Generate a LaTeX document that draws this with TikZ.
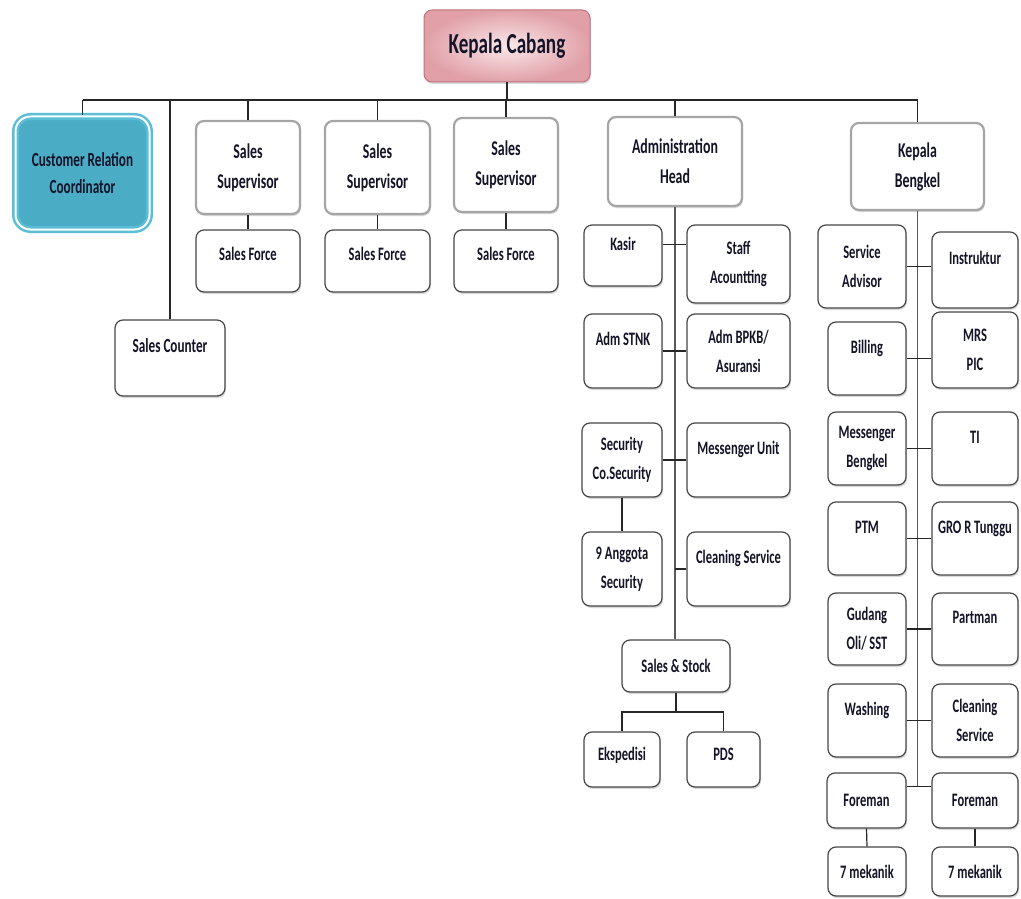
\documentclass[tikz,border=0pt]{standalone}
\usepackage{fontspec}
\newfontfamily\orgfont{Carlito}[FakeStretch=0.66]
\usetikzlibrary{positioning,calc,shadows}
\definecolor{kcpink}{RGB}{225,160,168}
\definecolor{kclight}{RGB}{250,232,234}
\definecolor{kcedge}{RGB}{190,115,125}
\definecolor{crcteal}{RGB}{75,172,198}
\definecolor{crcring}{RGB}{90,190,215}
\definecolor{textdark}{RGB}{20,20,40}
\definecolor{boxgray}{RGB}{70,70,70}
\definecolor{headgray}{RGB}{165,165,165}

\begin{document}
\begin{tikzpicture}[x=1pt, y=-1pt,
    box/.style={rectangle, draw=boxgray, line width=1.2pt, rounded corners=8pt,
                fill=white, align=center, inner sep=2pt, text=textdark,
                font=\orgfont\bfseries\fontsize{19}{29}\selectfont,
                drop shadow={shadow xshift=1pt, shadow yshift=-2pt, opacity=0.3}},
    headbox/.style={box, draw=headgray, line width=2.2pt,
                font=\orgfont\bfseries\fontsize{21}{30}\selectfont},
    dims/.style 2 args={minimum width=#1pt, minimum height=#2pt},
    high/.style={text height=13pt, text depth=#1}, high/.default=24pt,
    conn/.style={draw=black!85, line width=1.2pt}
]
    \useasboundingbox (0,0) rectangle (1021,899);

    % Top
    \node[box, draw=kcedge, line width=1pt, inner color=kclight, outer color=kcpink,
          dims={166}{72}, font=\orgfont\bfseries\fontsize{29}{32}\selectfont] (kc) at (507,46) {Kepala Cabang};
    \coordinate (bus) at (507,100);

    % Second row
    \node[box, draw=crcring, fill=crcteal, double=white, double distance=2pt, line width=2.5pt,
          rounded corners=15pt, dims={134}{113}, font=\orgfont\bfseries\fontsize{20}{27}\selectfont]
          (crc) at (82.5,173) {Customer Relation\\Coordinator};
    \node[box, high, dims={110}{76}, font=\orgfont\bfseries\fontsize{20}{29}\selectfont] (sc) at (170,358) {Sales Counter};
    \node[headbox, dims={104}{93}] (ss1) at (248,167.5) {Sales\\Supervisor};
    \node[headbox, dims={105}{93}] (ss2) at (377.5,167.5) {Sales\\Supervisor};
    \node[headbox, dims={104}{94}] (ss3) at (506,165) {Sales\\Supervisor};
    \node[box, high=14pt, dims={104}{62}] (sf1) at (248,261) {Sales Force};
    \node[box, high=14pt, dims={105}{62}] (sf2) at (377.5,261) {Sales Force};
    \node[box, high=14pt, dims={104}{62}] (sf3) at (506,261) {Sales Force};
    \node[headbox, dims={134}{89}] (admhead) at (675,161.5) {Administration\\Head};
    \node[headbox, dims={133}{87}] (kb) at (917.5,166.5) {Kepala\\Bengkel};

    % Administration
    \node[box, high, dims={78}{61}] (kasir) at (623,255.5) {Kasir};
    \node[box, dims={103}{78}] (staff) at (738.5,264) {Staff\\Acountting};
    \node[box, high, dims={78}{74}] (stnk) at (623,351) {Adm STNK};
    \node[box, dims={103}{74}] (bpkb) at (738.5,351) {Adm BPKB/\\Asuransi};
    \node[box, dims={80}{74}] (sec) at (622,460) {Security\\Co.Security};
    \node[box, high, dims={103}{74}] (msgu) at (738.5,460) {Messenger Unit};
    \node[box, dims={80}{74}] (angg) at (622,569) {9 Anggota\\Security};
    \node[box, high, dims={103}{74}] (clean) at (738.5,569) {Cleaning Service};
    \node[box, dims={108}{52}] (stock) at (676,666) {Sales \& Stock};
    \node[box, high=12pt, dims={76}{55}] (eksp) at (622,759.5) {Ekspedisi};
    \node[box, high=12pt, dims={73}{55}] (pds) at (723.5,759.5) {PDS};

    % Bengkel
    \node[box, dims={88}{83}] (sa) at (862,266.5) {Service\\Advisor};
    \node[box, high, dims={86}{76}] (instr) at (975,270) {Instruktur};
    \node[box, high, dims={78}{73}] (bill) at (867,358.5) {Billing};
    \node[box, dims={86}{76}] (mrs) at (975,350) {MRS\\PIC};
    \node[box, dims={78}{73}] (msgb) at (867,448.5) {Messenger\\Bengkel};
    \node[box, high, dims={86}{73}] (ti) at (975,448.5) {TI};
    \node[box, high, dims={78}{73}] (ptm) at (867,538.5) {PTM};
    \node[box, high, dims={86}{73}] (gro) at (975,538.5) {GRO R Tunggu};
    \node[box, dims={78}{72}] (gud) at (867,629) {Gudang\\Oli/ SST};
    \node[box, high, dims={86}{72}] (part) at (975,629) {Partman};
    \node[box, high, dims={78}{73}] (wash) at (867,720.5) {Washing};
    \node[box, dims={86}{73}] (cleanb) at (975,720.5) {Cleaning\\Service};
    \node[box, dims={79}{55}] (fml) at (866.5,800.5) {Foreman};
    \node[box, dims={86}{55}] (fmr) at (975,800.5) {Foreman};
    \node[box, dims={78}{49}] (mekl) at (867,871.5) {7 mekanik};
    \node[box, dims={86}{49}] (mekr) at (975,871.5) {7 mekanik};

    % Bus and drops
    \draw[conn] (kc.south) -- (bus);
    \draw[conn] (crc.north |- bus) -- (kb.north |- bus);
    \foreach \n in {crc,ss1,ss2,ss3,admhead,kb}
        \draw[conn] (\n.north |- bus) -- (\n.north);
    \draw[conn] (sc.north |- bus) -- (sc.north);
    \draw[conn] (ss1.south) -- (sf1.north);
    \draw[conn] (ss2.south) -- (sf2.north);
    \draw[conn] (ss3.south) -- (sf3.north);

    % Administration links
    \draw[conn, draw=black!65, line width=1.6pt] (admhead.south) -- (admhead.south |- stock.north);
    \draw[conn] ([yshift=11pt]kasir.east) -- ([yshift=11pt]kasir.east -| staff.west);
    \draw[conn] (stnk.east) -- (stnk.east -| bpkb.west);
    \draw[conn] (sec.east) -- (sec.east -| msgu.west);
    \draw[conn] (clean.west) -- (clean.west -| admhead.south);
    \draw[conn] (sec.south) -- (angg.north);
    \coordinate (stk) at ($(stock.south)!.5!(stock.south |- eksp.north)$);
    \draw[conn] (stock.south) -- (stk);
    \draw[conn] (eksp.north) |- (stk) -| (pds.north);

    % Bengkel links
    \coordinate (fmc) at ([yshift=14pt]fml.east);
    \draw[conn, draw=black!65, line width=1.6pt] (kb.south) -- (kb.south |- fmc);
    \foreach \l/\r in {sa/instr,bill/mrs,msgb/ti,ptm/gro,gud/part,wash/cleanb}
        \draw[conn] (\l.east) -- (\l.east -| \r.west);
    \draw[conn] (fmc) -- (fmc -| fmr.west);
    \draw[conn] (fml.south) -- (mekl.north);
    \draw[conn] (fmr.south) -- (mekr.north);
\end{tikzpicture}
\end{document}
